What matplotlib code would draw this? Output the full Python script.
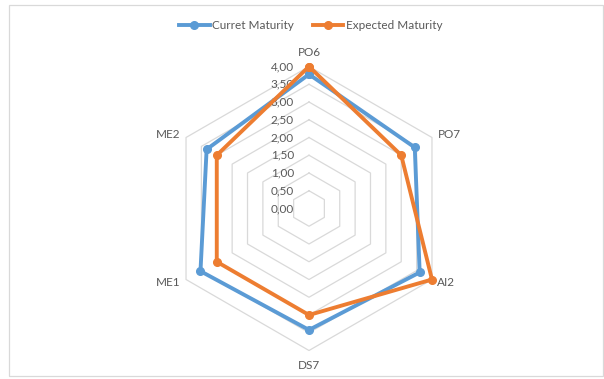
import numpy as np
import matplotlib
matplotlib.use("Agg")
import matplotlib.pyplot as plt
from matplotlib.patches import Rectangle

# Maturity levels per COBIT process
categories = ["PO6", "PO7", "AI2", "DS7", "ME1", "ME2"]
current_maturity = [3.78, 3.44, 3.60, 3.42, 3.53, 3.33]
expected_maturity = [4.00, 3.00, 4.00, 3.00, 3.00, 3.00]
series_names = ["Curret Maturity", "Expected Maturity"]
ring_values = [0.0, 0.5, 1.0, 1.5, 2.0, 2.5, 3.0, 3.5, 4.0]
ring_labels = ["0,00", "0,50", "1,00", "1,50", "2,00", "2,50", "3,00", "3,50", "4,00"]

BLUE = "#5B9BD5"
ORANGE = "#ED7D31"
GRID = "#D9D9D9"
TEXT = "#595959"

plt.rcParams["font.family"] = ["Lato", "DejaVu Sans"]

W, H = 604, 379
fig = plt.figure(figsize=(W / 100, H / 100), dpi=100)
fig.patch.set_facecolor("white")

# polar axes: centre at (309, 208.5) px, radius 142 px for value 4
cx, cy, rad = 309, 208.5, 142
ax = fig.add_axes([(cx - rad) / W, (H - cy - rad) / H, 2 * rad / W, 2 * rad / H],
                  projection="polar")
ax.set_theta_zero_location("N")
ax.set_theta_direction(-1)
ax.set_ylim(0, 4)
ax.grid(False)
ax.set_xticks([])
ax.set_yticks([])
ax.spines["polar"].set_visible(False)
ax.patch.set_alpha(0)

n = len(categories)
angles = np.arange(n) * 2 * np.pi / n
closed = np.append(angles, angles[0])

# hexagonal grid rings
for v in ring_values[1:]:
    ax.plot(closed, [v] * (n + 1), color=GRID, lw=0.9, zorder=1, clip_on=False)

# value labels along the top axis
for v, lab in zip(ring_values, ring_labels):
    ax.annotate(lab, xy=(0, v), xytext=(-15, 0), textcoords="offset pixels",
                ha="right", va="center", fontsize=8.5, color=TEXT, zorder=2,
                annotation_clip=False)

# series
for vals, col, name in [(current_maturity, BLUE, series_names[0]),
                        (expected_maturity, ORANGE, series_names[1])]:
    ax.plot(closed, np.append(vals, vals[0]), color=col, lw=2.8,
            marker="o", markersize=5.5, label=name, zorder=3, clip_on=False)

# category labels just outside the outer ring
offsets = {
    "PO6": ((0, 14), "center", "center"),
    "PO7": ((6, 3), "left", "center"),
    "AI2": ((5, -3), "left", "center"),
    "DS7": ((0, -15), "center", "center"),
    "ME1": ((-6, -3), "right", "center"),
    "ME2": ((-6, 3), "right", "center"),
}
for a, cat in zip(angles, categories):
    off, ha, va = offsets[cat]
    ax.annotate(cat, xy=(a, 4.0), xytext=off, textcoords="offset pixels",
                ha=ha, va=va, fontsize=8.5, color=TEXT, annotation_clip=False)

handles, labels = ax.get_legend_handles_labels()
fig.legend(handles, labels, loc="center", bbox_to_anchor=(310.5 / W, 1 - 25.7 / H),
           ncol=2, frameon=False, fontsize=8.5, labelcolor=TEXT,
           handlelength=2.6, handletextpad=0.2, columnspacing=1.6)

# chart area border
fig.patches.append(Rectangle((9 / W, 3 / H), 594 / W, 371 / H, transform=fig.transFigure,
                             fill=False, edgecolor=GRID, lw=0.9))

fig.savefig("out.png", dpi=100)
